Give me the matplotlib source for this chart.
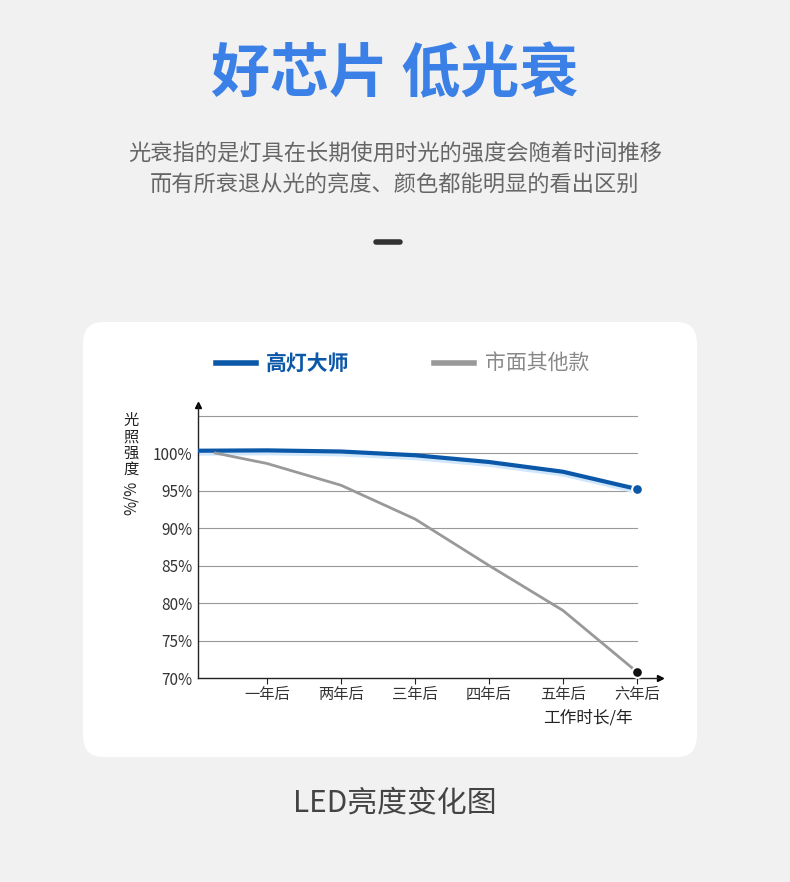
import matplotlib
matplotlib.use("Agg")
import matplotlib.pyplot as plt
from matplotlib.patches import FancyBboxPatch
import numpy as np

plt.rcParams['font.family'] = ['Noto Sans CJK SC', 'DejaVu Sans']

years = [0, 1, 2, 3, 4, 5, 6]
blue_vals = [100.3, 100.35, 100.2, 99.7, 98.8, 97.5, 95.2]
grey_x = [0.3, 1, 2, 3, 4, 5, 6]
grey_vals = [100.0, 98.6, 95.7, 91.2, 85.0, 79.0, 70.8]
xtick_labels = ["一年后", "两年后", "三年后", "四年后", "五年后", "六年后"]
yticks = [70, 75, 80, 85, 90, 95, 100]
ytick_labels = ["70%", "75%", "80%", "85%", "90%", "95%", "100%"]

W, H = 790, 882
fig = plt.figure(figsize=(W/100, H/100), dpi=100)
fig.patch.set_facecolor('#f1f1f1')

def fx(px): return px / W
def fy(py): return 1 - py / H

card = FancyBboxPatch((fx(83), fy(757)), fx(697)-fx(83), fy(322)-fy(757),
                      boxstyle="round,pad=0,rounding_size=0.025", transform=fig.transFigure,
                      facecolor='white', edgecolor='none', zorder=-10)
fig.patches.append(card)

fig.text(0.5, fy(75), "好芯片 低光衰", ha='center', va='center', fontsize=42.5,
         fontweight='bold', color='#3b80e6')
fig.text(0.5, fy(154), "光衰指的是灯具在长期使用时光的强度会随着时间推移", ha='center',
         va='center', fontsize=16, color='#666666')
fig.text(0.5, fy(185), "而有所衰退从光的亮度、颜色都能明显的看出区别", ha='center',
         va='center', fontsize=16, color='#666666')
fig.add_artist(plt.Line2D([fx(376), fx(400)], [fy(242), fy(242)], color='#333333', lw=4,
                          solid_capstyle='round', transform=fig.transFigure))
fig.text(0.5, fy(803), "LED亮度变化图", ha='center', va='center', fontsize=21.5,
         color='#444444', fontweight='medium')

# legend
fig.add_artist(plt.Line2D([fx(216), fx(256)], [fy(363), fy(363)], color='#0b57a8', lw=4,
                          transform=fig.transFigure))
fig.text(fx(266), fy(363), "高灯大师", va='center', fontsize=15, color='#0b57a8', fontweight='bold')
fig.add_artist(plt.Line2D([fx(434), fx(474)], [fy(363), fy(363)], color='#999999', lw=4,
                          transform=fig.transFigure))
fig.text(fx(485), fy(363), "市面其他款", va='center', fontsize=15, color='#888888')

ax = fig.add_axes([fx(198), fy(678), fx(660)-fx(198), fy(405)-fy(678)])
ax.set_zorder(5)
ax.set_facecolor('none')
x0 = 193
ax.set_xlim((198 - x0)/74, (660 - x0)/74)
ax.set_ylim(70, 106.4)
for s in ['top', 'right']:
    ax.spines[s].set_visible(False)
for s in ['left', 'bottom']:
    ax.spines[s].set_color('#222222'); ax.spines[s].set_linewidth(1)
for yv in yticks[1:] + [105]:
    ax.plot([ax.get_xlim()[0], 6], [yv, yv], color='#999999', lw=0.8, zorder=1)
ax.plot(1, 0, ">k", transform=ax.transAxes, clip_on=False, ms=4)
ax.plot(0, 1, "^k", transform=ax.transAxes, clip_on=False, ms=4)

bx = np.array(years); by = np.array(blue_vals)
ax.fill_between(bx, by - 0.5, by, color='#cfe6fb', zorder=2)
ax.plot(bx, by, color='#0b57a8', lw=3, zorder=3)
ax.plot(grey_x, grey_vals, color='#999999', lw=2, zorder=3)
ax.scatter([6], [blue_vals[-1]], s=60, color='#0b57a8', edgecolor='white', lw=1.5, zorder=5, clip_on=False)
ax.scatter([6], [grey_vals[-1]], s=60, color='#111111', edgecolor='white', lw=1.5, zorder=5, clip_on=False)

ax.set_xticks(range(1, 7))
ax.set_xticklabels(xtick_labels, fontsize=11, color='#333333')
ax.set_yticks(yticks)
ax.set_yticklabels(ytick_labels, fontsize=11, color='#333333')
ax.tick_params(axis='x', length=4, color='#222222', pad=2)
ax.tick_params(axis='y', length=0, pad=4)
fig.text(fx(588), fy(718), "工作时长/年", ha='center', va='center', fontsize=12, color='#222222')
fig.text(fx(131), fy(445), "光\n照\n强\n度", ha='center', va='center', fontsize=11,
         color='#222222', linespacing=0.95)
fig.text(fx(131), fy(498), "%/%", ha='center', va='center', fontsize=11,
         color='#222222', rotation=90)

fig.savefig("out.png", dpi=100, facecolor=fig.get_facecolor())
